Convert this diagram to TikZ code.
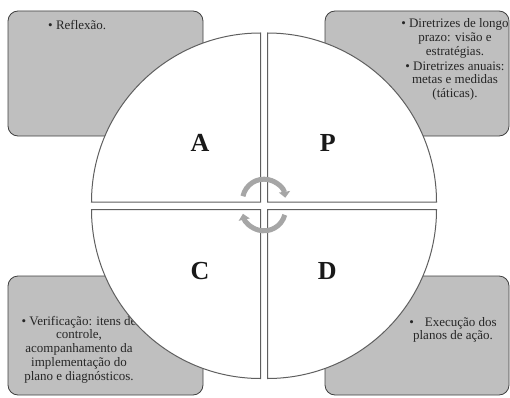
\documentclass[tikz,border=0pt]{standalone}
\usepackage{fontspec}
\setmainfont{Liberation Serif}
\usepackage{tikz}
\usetikzlibrary{arrows.meta,positioning}
\definecolor{boxgray}{RGB}{191,191,191}
\definecolor{boxline}{RGB}{64,64,64}
\definecolor{wedgeline}{RGB}{95,95,95}
\definecolor{turngray}{RGB}{166,166,166}

\begin{document}
\begin{tikzpicture}[x=1pt,y=1pt]
            \tikzstyle{note}=[draw=boxline, fill=boxgray, line width=0.8pt, rounded corners=10pt]
            \tikzstyle{notetext}=[inner sep=0pt, align=center, text=black!85, font=\fontsize{13}{13.7}\selectfont]
            \tikzstyle{wedge}=[draw=wedgeline, fill=white, line width=1pt]
            \tikzstyle{letter}=[inner sep=0pt, text=black!90, font=\fontsize{26}{26}\selectfont\bfseries]
            \tikzstyle{turn}=[draw=turngray, line width=5pt, -{Triangle[width=11pt,length=6pt]}]

            \useasboundingbox (0,0) rectangle (510,397);

            \draw[note] (8,386) rectangle (203,261);
            \draw[note] (325,386) rectangle (509,261);
            \draw[note] (8,121) rectangle (203,2);
            \draw[note] (325,121) rectangle (509,2);

            \node[notetext, anchor=west] (act) at (48,372) {\textbullet\ Reflexão.};
            \node[notetext] (plan) at (455,337.5) {\textbullet\ Diretrizes de longo\\ prazo: visão e\\ estratégias.\\[1.5pt] \textbullet\ Diretrizes anuais:\\ metas e medidas\\ (táticas).};
            \node[notetext] (check) at (79,47.5) {\textbullet\ Verificação: itens de\\ controle,\\ acompanhamento da\\ implementação do\\ plano e diagnósticos.};
            \node[notetext] (do) at (453,67) {\textbullet\hspace{11pt}Execução dos\\ planos de ação.};

            \draw[wedge] (260.5,195) -- (91.5,195) arc[start angle=180, end angle=90, radius=169] -- cycle;
            \draw[wedge] (267.5,195) -- (267.5,364) arc[start angle=90, end angle=0, radius=169] -- cycle;
            \draw[wedge] (260.5,187.5) -- (260.5,18.5) arc[start angle=270, end angle=180, radius=169] -- cycle;
            \draw[wedge] (267.5,187.5) -- (436.5,187.5) arc[start angle=0, end angle=-90, radius=169] -- cycle;

            \node[letter] (A) at (200,254) {A};
            \node[letter, right=110pt of A] (P) {P};
            \node[letter, below=110pt of A] (C) {C};
            \node[letter, right=108pt of C] (D) {D};

            \coordinate (hub1) at (264,196.3);
            \coordinate (hub2) at (264,187.7);
            \draw[turn] ([shift={(168:21.5)}]hub1) arc[start angle=168, end angle=8, radius=21.5];
            \draw[turn] ([shift={(-15:21.5)}]hub2) arc[start angle=-15, end angle=-168, radius=21.5];

        \end{tikzpicture}
\end{document}
